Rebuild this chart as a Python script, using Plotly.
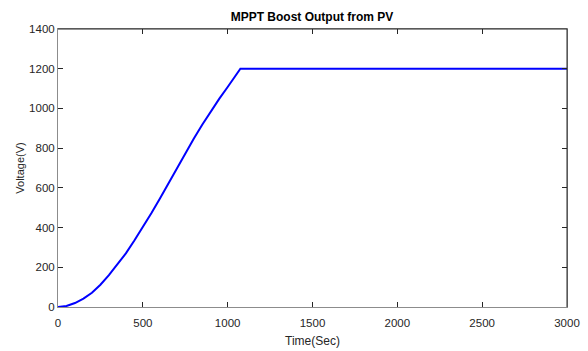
import plotly.graph_objects as go

time_sec = [0, 50, 100, 150, 200, 250, 300, 350, 400, 450, 500, 550, 600, 650, 700, 750, 800, 850, 900, 950, 1000, 1040, 1075, 1500, 2000, 2500, 3000]
voltage = [0, 5, 20, 42, 72, 112, 160, 213, 270, 335, 402, 472, 545, 622, 698, 774, 847, 918, 985, 1048, 1108, 1157, 1200, 1200, 1200, 1200, 1200]

x_ticks = [0, 500, 1000, 1500, 2000, 2500, 3000]
y_ticks = [0, 200, 400, 600, 800, 1000, 1200, 1400]

FONT = "Liberation Sans, Arial, sans-serif"

fig = go.Figure()
fig.add_trace(go.Scatter(x=time_sec, y=voltage, mode="lines",
                         line=dict(color="#0000ff", width=2),
                         showlegend=False))

axis_font = dict(family=FONT, size=11.5, color="#262626")
fig.update_layout(
    width=588, height=351,
    margin=dict(l=58, r=21, t=29, b=44),
    paper_bgcolor="white", plot_bgcolor="white",
    title=dict(text="<b>MPPT Boost Output from PV</b>", x=312/588, xanchor="center",
               y=1 - 17/351, yanchor="middle",
               font=dict(family=FONT, size=12, color="#000000")),
    xaxis=dict(range=[0, 3000], tickvals=x_ticks, ticks="inside", ticklen=5, tickcolor="#262626",
               showline=True, linecolor="#8c8c8c", linewidth=1, mirror="ticks",
               showgrid=False, zeroline=False, tickfont=axis_font, ticklabelstandoff=5,
               automargin=False,
               title=dict(text="Time(Sec)", font=dict(family=FONT, size=12, color="#262626"), standoff=8)),
    yaxis=dict(range=[0, 1400], tickvals=y_ticks, ticks="inside", ticklen=5, tickcolor="#262626",
               showline=True, linecolor="#8c8c8c", linewidth=1, mirror="ticks",
               showgrid=False, zeroline=False, tickfont=axis_font, automargin=False,
               title=dict(text="Voltage(V)", font=dict(family=FONT, size=11, color="#262626"), standoff=2)),
)
fig.add_shape(type="line", xref="paper", yref="paper", x0=0, x1=1, y0=1, y1=1,
              line=dict(color="#262626", width=1))
fig.add_shape(type="line", xref="paper", yref="paper", x0=1, x1=1, y0=0, y1=1,
              line=dict(color="#262626", width=1))

fig.write_html("out.html")
